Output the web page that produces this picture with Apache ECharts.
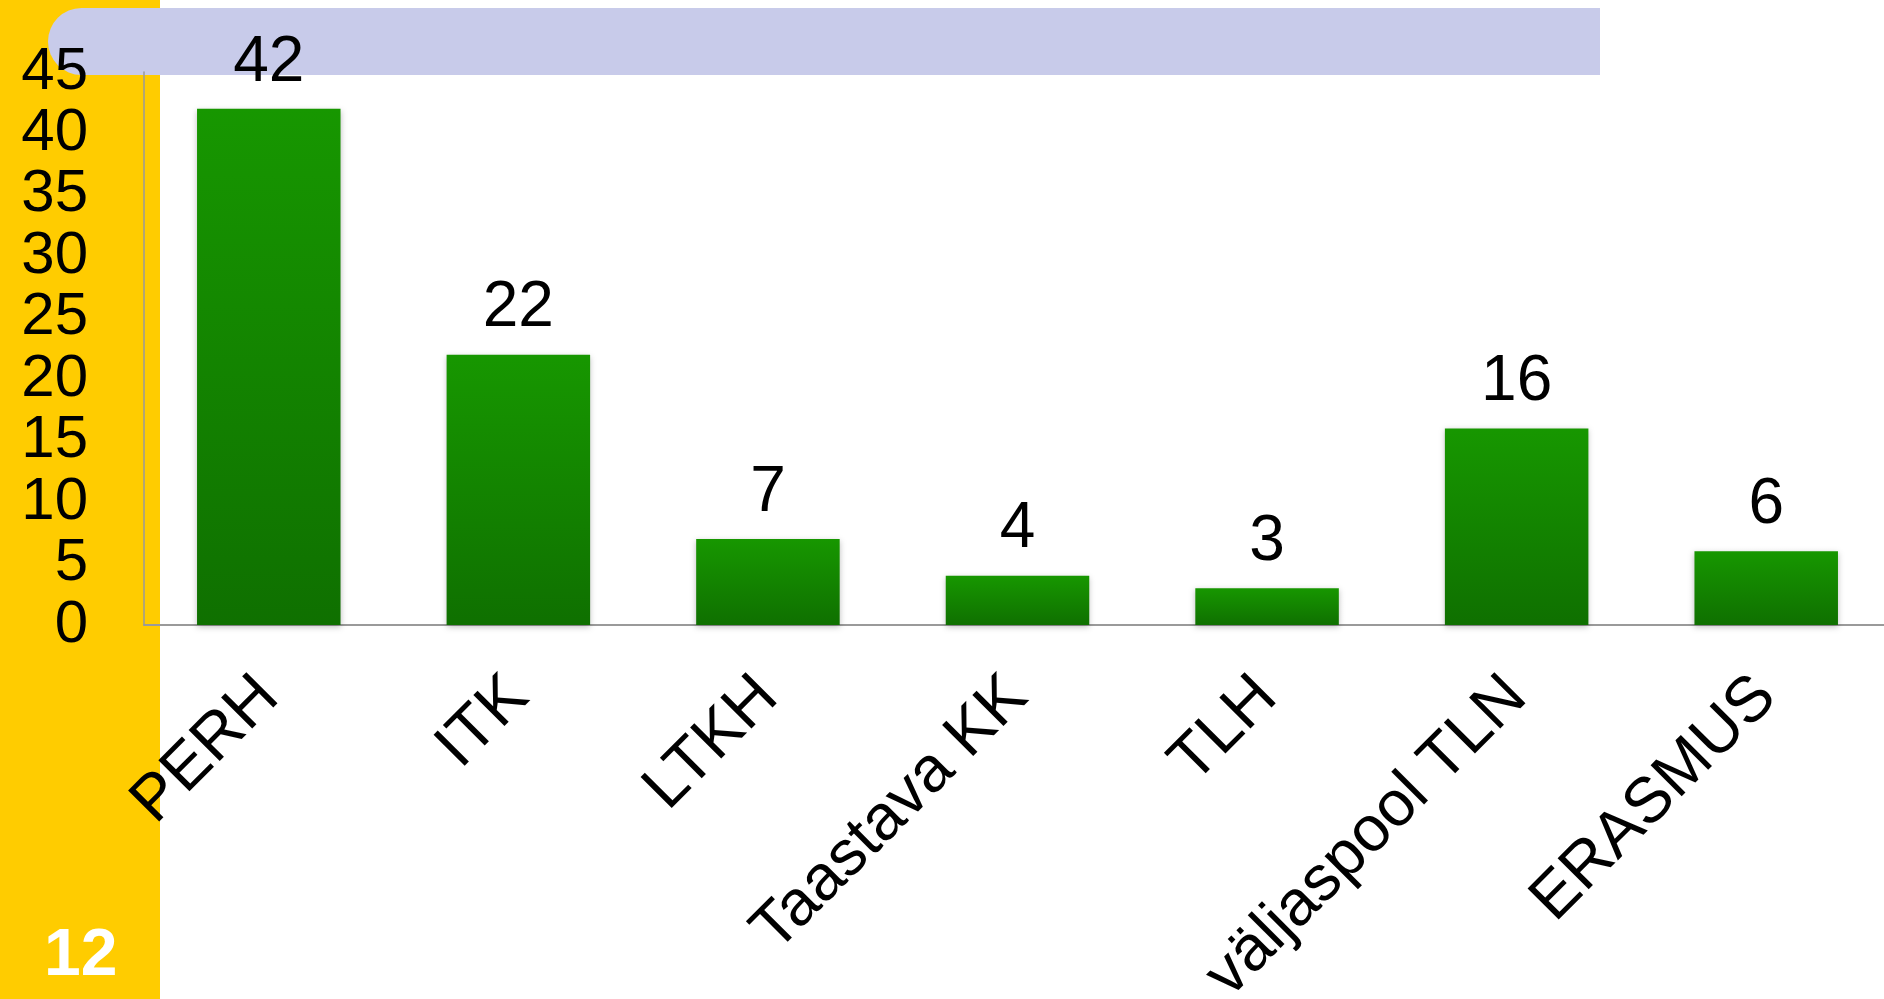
<!DOCTYPE html>
<html>
<head>
<meta charset="utf-8">
<script src="https://cdn.jsdelivr.net/npm/echarts@6/dist/echarts.min.js"></script>
<style>
  html, body { margin: 0; padding: 0; background: #fff; }
  #chart { width: 1884px; height: 999px; }
</style>
</head>
<body>
<div id="chart"></div>
<script>
const categories = ["PERH", "ITK", "LTKH", "Taastava KK", "TLH", "väljaspool TLN", "ERASMUS"];
const values = [42, 22, 7, 4, 3, 16, 6];
const slideNumber = "12";

let myChart = echarts.init(document.getElementById("chart"));
let font = "'Liberation Sans', Arial, sans-serif";

let option = {
  backgroundColor: "#ffffff",
  animation: false,
  graphic: [
    // yellow side strip
    { type: "rect", z: -10, shape: { x: 0, y: 0, width: 160, height: 999 }, style: { fill: "#FFCC00" } },
    // lavender header band
    { type: "rect", z: -9, shape: { x: 48, y: 8, width: 1552, height: 67, r: [34, 0, 0, 34] }, style: { fill: "#C8CBEA" } },
    {
      type: "text", z: 10, left: 44, top: 924,
      style: { text: slideNumber, fill: "#ffffff", font: "bold 66px " + font }
    }
  ],
  grid: { left: 144, top: 72, width: 1747, height: 553, containLabel: false, outerBoundsMode: "none" },
  xAxis: {
    type: "category",
    data: categories,
    axisLine: { show: true, lineStyle: { color: "#9a9a9a", width: 2 } },
    axisTick: { show: false },
    axisLabel: {
      rotate: 45,
      interval: 0,
      margin: 62,
      color: "#000",
      fontSize: 64,
      fontFamily: font
    }
  },
  yAxis: {
    type: "value",
    min: 0,
    max: 45,
    interval: 5,
    splitLine: { show: false },
    axisLine: { show: true, lineStyle: { color: "#9a9a9a", width: 1.5 } },
    axisTick: { show: false },
    axisLabel: {
      margin: 56,
      color: "#000",
      fontSize: 60,
      fontFamily: font
    }
  },
  series: [
    {
      type: "bar",
      data: values,
      barWidth: "57.5%",
      itemStyle: {
        color: new echarts.graphic.LinearGradient(0, 0, 0, 1, [
          { offset: 0, color: "#179700" },
          { offset: 1, color: "#0F7000" }
        ]),
        shadowColor: "rgba(0,0,0,0.25)",
        shadowBlur: 6,
        shadowOffsetY: 2
      },
      label: {
        show: true,
        position: "top",
        distance: 14,
        color: "#000",
        fontSize: 64,
        fontFamily: font
      }
    }
  ]
};
myChart.setOption(option);
</script>
</body>
</html>
